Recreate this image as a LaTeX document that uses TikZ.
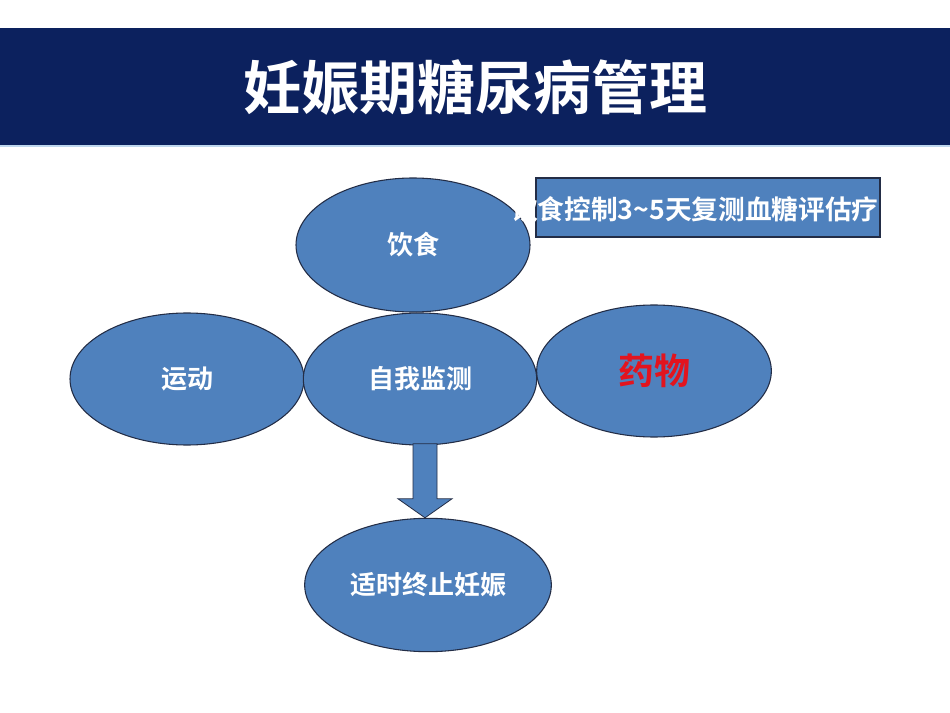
\documentclass[tikz,border=0pt]{standalone}
\usepackage{fontspec}
\setmainfont{Noto Sans CJK SC}[BoldFont={Noto Sans CJK SC Bold}]
\definecolor{navy}{RGB}{12,33,94}
\definecolor{lineblue}{RGB}{190,215,238}
\definecolor{ellfill}{RGB}{79,129,189}
\definecolor{ellline}{RGB}{35,45,70}
\definecolor{drugred}{RGB}{226,20,30}
\tikzset{
  ell/.style={ellipse, fill=ellfill, draw=ellline, line width=0.8pt, inner sep=0pt,
    text=white, font=\bfseries\fontsize{19.5pt}{22pt}\selectfont},
  boxrect/.style={rectangle, fill=ellfill, draw=ellline, line width=0.8pt, inner sep=0pt},
  blockarrow/.style={fill=ellfill, draw=ellline, line width=0.6pt},
}
\usetikzlibrary{shapes.geometric,calc}
\begin{document}
\begin{tikzpicture}[x=0.75pt,y=-0.75pt]
\useasboundingbox (0,0) rectangle (950,713);
\fill[white] (0,0) rectangle (950,713);
% title bar
\fill[navy] (0,28) rectangle (950,145);
\fill[lineblue] (0,145) rectangle (950,147);
\node[text=white, font=\bfseries\fontsize{43.5pt}{46pt}\selectfont, inner sep=0pt] (title) at (475,88) {妊娠期糖尿病管理};
% ellipses
\node[ell, minimum width=175.5pt, minimum height=100.5pt] (diet) at (413,245) {饮食};
\node[boxrect, minimum width=258pt, minimum height=44.25pt] (box) at (708,207.5) {};
\node[anchor=west, text=white, inner sep=0pt, font=\bfseries\fontsize{20pt}{22pt}\selectfont] (boxtext) at (511,209) {饮食控制3\textasciitilde 5天复测血糖评估疗};
\node[ell, minimum width=175.5pt, minimum height=99pt] (sport) at (187,379) {运动};
\node[ell, minimum width=175pt, minimum height=99pt] (monitor) at (420,379) {自我监测};
\node[ell, minimum width=176pt, minimum height=99pt, text=drugred, font=\bfseries\fontsize{27pt}{30pt}\selectfont] (drug) at (654,371) {药物};
\node[ell, minimum width=185pt, minimum height=100pt] (stop) at (428,585) {适时终止妊娠};
% block arrow from monitor to stop
\coordinate (atip) at ($(stop.north)+(-3,0)$);
\draw[blockarrow] ($(atip)+(-12,-74)$) -- ($(atip)+(12,-74)$)
  -- ($(atip)+(12,-19)$) -- ($(atip)+(27,-19)$) -- (atip)
  -- ($(atip)+(-27,-19)$) -- ($(atip)+(-12,-19)$) -- cycle;
\end{tikzpicture}
\end{document}
